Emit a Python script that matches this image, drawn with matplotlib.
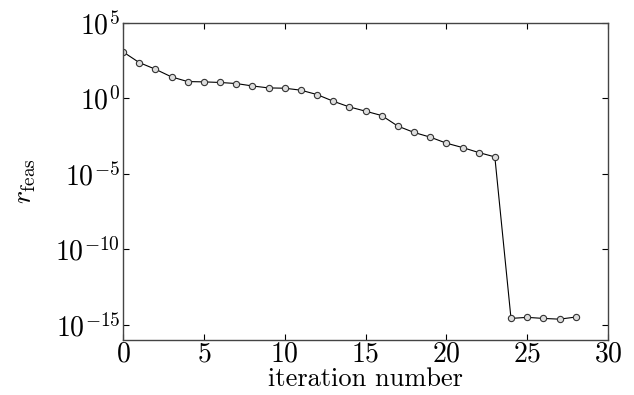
import numpy as np
import matplotlib
matplotlib.use("Agg")
import matplotlib.pyplot as plt

plt.rcParams['font.family'] = 'serif'
plt.rcParams['font.serif'] = ['cmr10', 'DejaVu Serif']
plt.rcParams['mathtext.fontset'] = 'cm'
plt.rcParams['axes.formatter.use_mathtext'] = True

iters = list(range(29))
log_rfeas = [3.09, 2.38, 1.94, 1.43, 1.12, 1.10, 1.06, 0.99, 0.83, 0.70,
             0.68, 0.55, 0.26, -0.18, -0.56, -0.84, -1.13, -1.83, -2.25,
             -2.56, -2.96, -3.25, -3.58, -3.87, -14.57, -14.50, -14.57,
             -14.62, -14.48]
rfeas = 10.0 ** np.array(log_rfeas)

fig = plt.figure(figsize=(6.34, 3.95), dpi=100)
ax = fig.add_axes([123 / 634, 1 - 340 / 395, 485 / 634, 317 / 395])

ax.semilogy(iters, rfeas, color='black', lw=0.8, marker='o', ms=4.5,
            mfc='#dddddd', mec='#333333', mew=0.8)

ax.set_xlim(0, 30)
ax.set_ylim(1e-16, 1e5)
ax.set_xticks([0, 5, 10, 15, 20, 25, 30])
ax.set_yticks([1e-15, 1e-10, 1e-5, 1e0, 1e5])
ax.minorticks_off()
ax.tick_params(direction='in', top=True, right=True, length=4, labelsize=20, pad=2)
ax.tick_params(axis='x', pad=1)
for s in ax.spines.values():
    s.set_color('#444444')
    s.set_linewidth(1.0)

ax.set_xlabel('iteration number', fontsize=19, labelpad=0)
ax.set_ylabel(r'$r_{\rm feas}$', fontsize=20)
ax.yaxis.set_label_coords(-0.175, 0.5)

fig.savefig('out.png', dpi=100)
